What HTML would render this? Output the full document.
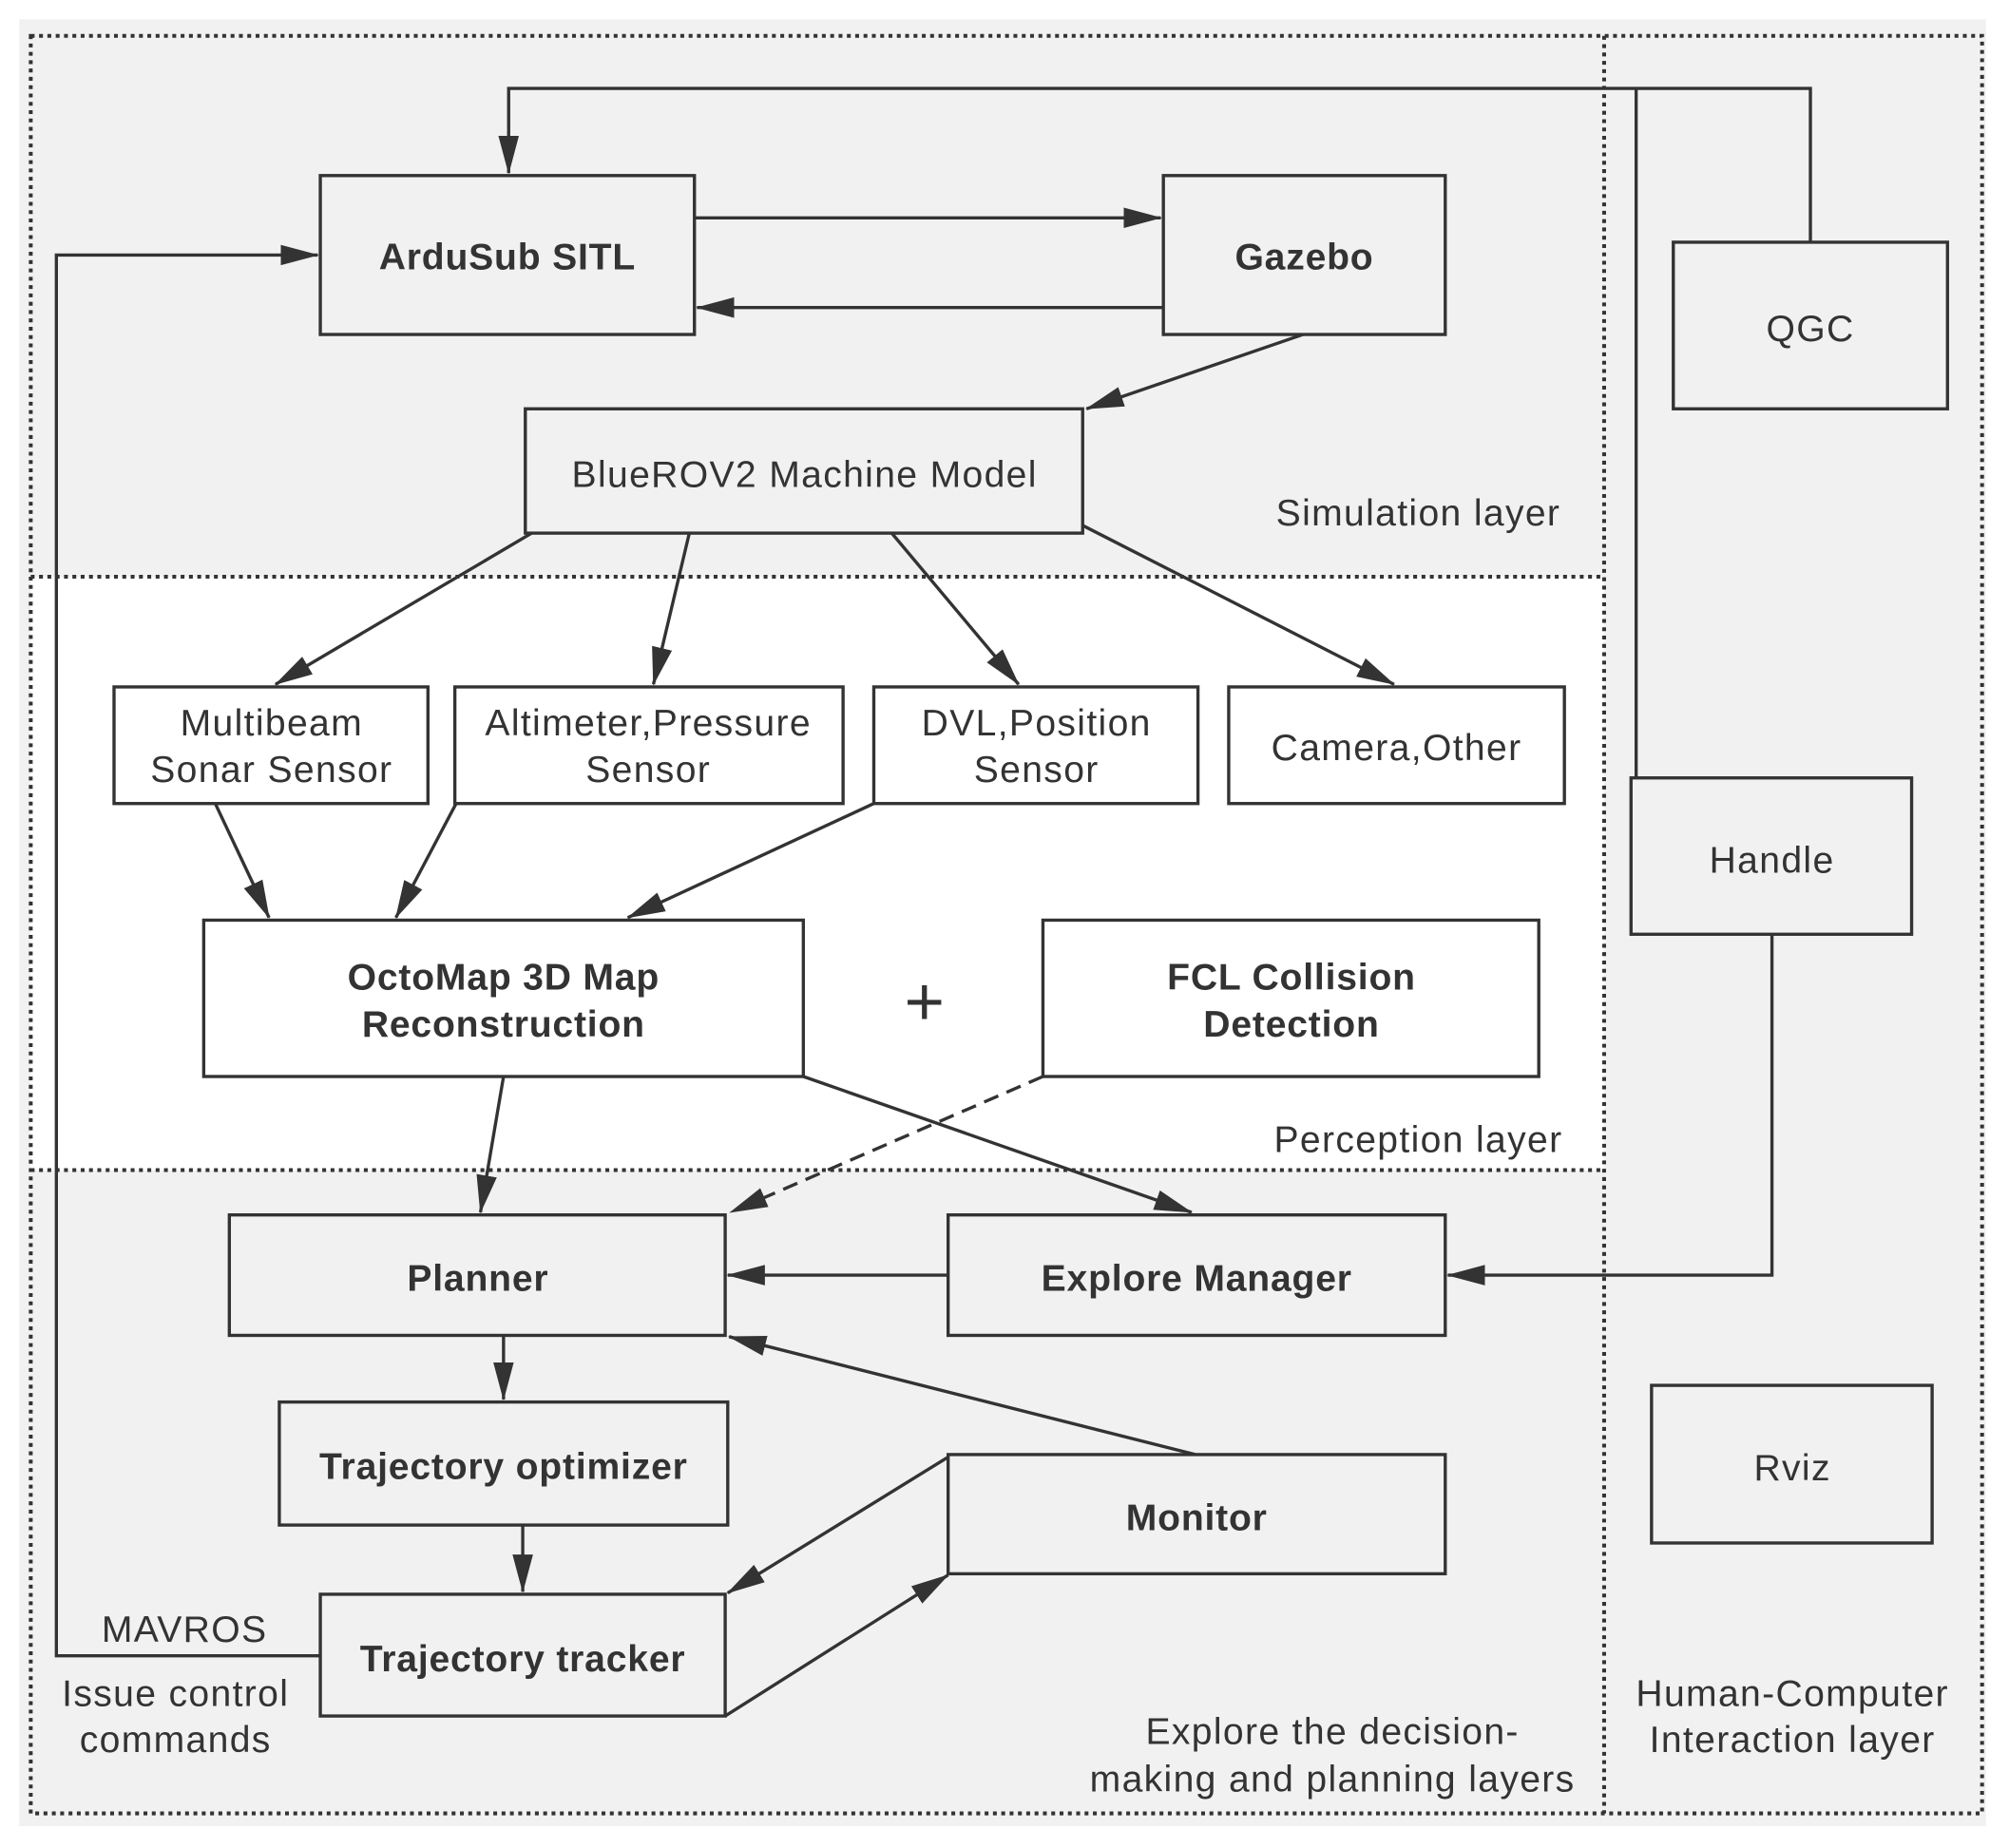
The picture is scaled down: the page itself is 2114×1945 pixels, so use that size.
<!DOCTYPE html>
<html><head><meta charset="utf-8"><style>html,body{margin:0;padding:0;background:#fff}svg{display:block}</style></head>
<body>
<svg width="2114" height="1945" viewBox="0 0 1568 1442" preserveAspectRatio="none" xmlns="http://www.w3.org/2000/svg" font-family="Liberation Sans, DejaVu Sans, sans-serif" fill="#333">
<defs>
<marker id="b" markerWidth="30" markerHeight="20" refX="29" refY="10" orient="auto" markerUnits="userSpaceOnUse"><path d="M0,2L30,10L0,18z" fill="#333"/></marker></defs>
<rect x="15" y="15" width="1535" height="1410" fill="#f1f1f1"/>
<rect x="24" y="450" width="1228" height="463" fill="#fff"/>
<g stroke="#333" stroke-width="3" fill="none" stroke-dasharray="3,3.5">
<rect x="24" y="28" width="1523" height="1387"/>
<line x1="1252" y1="28" x2="1252" y2="1415"/>
<line x1="24" y1="450" x2="1252" y2="450"/>
<line x1="24" y1="913" x2="1252" y2="913"/>
</g>
<g stroke="#333" stroke-width="2.5" fill="none">
<rect x="250" y="137" width="292" height="124"/>
<rect x="908" y="137" width="220" height="124"/>
<rect x="1306" y="189" width="214" height="130"/>
<rect x="410" y="319" width="435" height="97"/>
<rect x="89" y="536" width="245" height="91"/>
<rect x="355" y="536" width="303" height="91"/>
<rect x="682" y="536" width="253" height="91"/>
<rect x="959" y="536" width="262" height="91"/>
<rect x="1273" y="607" width="219" height="122"/>
<rect x="159" y="718" width="468" height="122"/>
<rect x="814" y="718" width="387" height="122"/>
<rect x="179" y="948" width="387" height="94"/>
<rect x="740" y="948" width="388" height="94"/>
<rect x="218" y="1094" width="350" height="96"/>
<rect x="740" y="1135" width="388" height="93"/>
<rect x="250" y="1244" width="316" height="95"/>
<rect x="1289" y="1081" width="219" height="123"/>
<polyline points="1413,189 1413,69 397,69 397,135" marker-end="url(#b)"/>
<line x1="1277" y1="69" x2="1277" y2="607"/>
<polyline points="250,1292 44,1292 44,199 248,199" marker-end="url(#b)"/>
<line x1="542" y1="170" x2="906" y2="170" marker-end="url(#b)"/>
<line x1="908" y1="240" x2="544" y2="240" marker-end="url(#b)"/>
<line x1="1017" y1="261" x2="848" y2="319" marker-end="url(#b)"/>
<line x1="415" y1="416" x2="215" y2="534" marker-end="url(#b)"/>
<line x1="538" y1="416" x2="510" y2="534" marker-end="url(#b)"/>
<line x1="696" y1="416" x2="795" y2="534" marker-end="url(#b)"/>
<line x1="845" y1="410" x2="1088" y2="534" marker-end="url(#b)"/>
<line x1="168" y1="627" x2="210" y2="716" marker-end="url(#b)"/>
<line x1="356" y1="627" x2="309" y2="716" marker-end="url(#b)"/>
<line x1="682" y1="627" x2="490" y2="716" marker-end="url(#b)"/>
<line x1="393" y1="840" x2="375" y2="946" marker-end="url(#b)"/>
<line x1="627" y1="840" x2="930" y2="946" marker-end="url(#b)"/>
<line x1="814" y1="840" x2="570" y2="946" marker-end="url(#b)" stroke-dasharray="12,7"/>
<line x1="740" y1="995" x2="568" y2="995" marker-end="url(#b)"/>
<polyline points="1383,729 1383,995 1130,995" marker-end="url(#b)"/>
<line x1="393" y1="1042" x2="393" y2="1092" marker-end="url(#b)"/>
<line x1="933" y1="1135" x2="569" y2="1043" marker-end="url(#b)"/>
<line x1="408" y1="1190" x2="408" y2="1242" marker-end="url(#b)"/>
<line x1="740" y1="1137" x2="568" y2="1243" marker-end="url(#b)"/>
<line x1="566" y1="1339" x2="740" y2="1229" marker-end="url(#b)"/>
</g>
<g text-anchor="middle" font-size="29" font-weight="bold" letter-spacing="0.6">
<text x="396" y="210">ArduSub SITL</text>
<text x="1018" y="210">Gazebo</text>
<text x="393" y="772">OctoMap 3D Map</text>
<text x="393" y="809">Reconstruction</text>
<text x="1008" y="772">FCL Collision</text>
<text x="1008" y="809">Detection</text>
<text x="373" y="1007">Planner</text>
<text x="934" y="1007">Explore Manager</text>
<text x="393" y="1154">Trajectory optimizer</text>
<text x="934" y="1194">Monitor</text>
<text x="408" y="1304">Trajectory tracker</text>
</g>
<g text-anchor="middle" font-size="29" letter-spacing="1">
<text x="1413" y="266">QGC</text>
<text x="628" y="380">BlueROV2 Machine Model</text>
<text x="212" y="574">Multibeam</text>
<text x="212" y="610">Sonar Sensor</text>
<text x="506" y="574">Altimeter,Pressure</text>
<text x="506" y="610">Sensor</text>
<text x="809" y="574">DVL,Position</text>
<text x="809" y="610">Sensor</text>
<text x="1090" y="593">Camera,Other</text>
<text x="1383" y="681">Handle</text>
<text x="1399" y="1155">Rviz</text>
<text x="1107" y="410">Simulation layer</text>
<text x="1107" y="899">Perception layer</text>
<text x="144" y="1281">MAVROS</text>
<text x="137" y="1331">Issue control</text>
<text x="137" y="1367">commands</text>
<text x="1040" y="1361">Explore the decision-</text>
<text x="1040" y="1398">making and planning layers</text>
<text x="1399" y="1331">Human-Computer</text>
<text x="1399" y="1367">Interaction layer</text>
<text x="722" y="800" font-size="54">+</text>
</g>
</svg>
</body></html>
